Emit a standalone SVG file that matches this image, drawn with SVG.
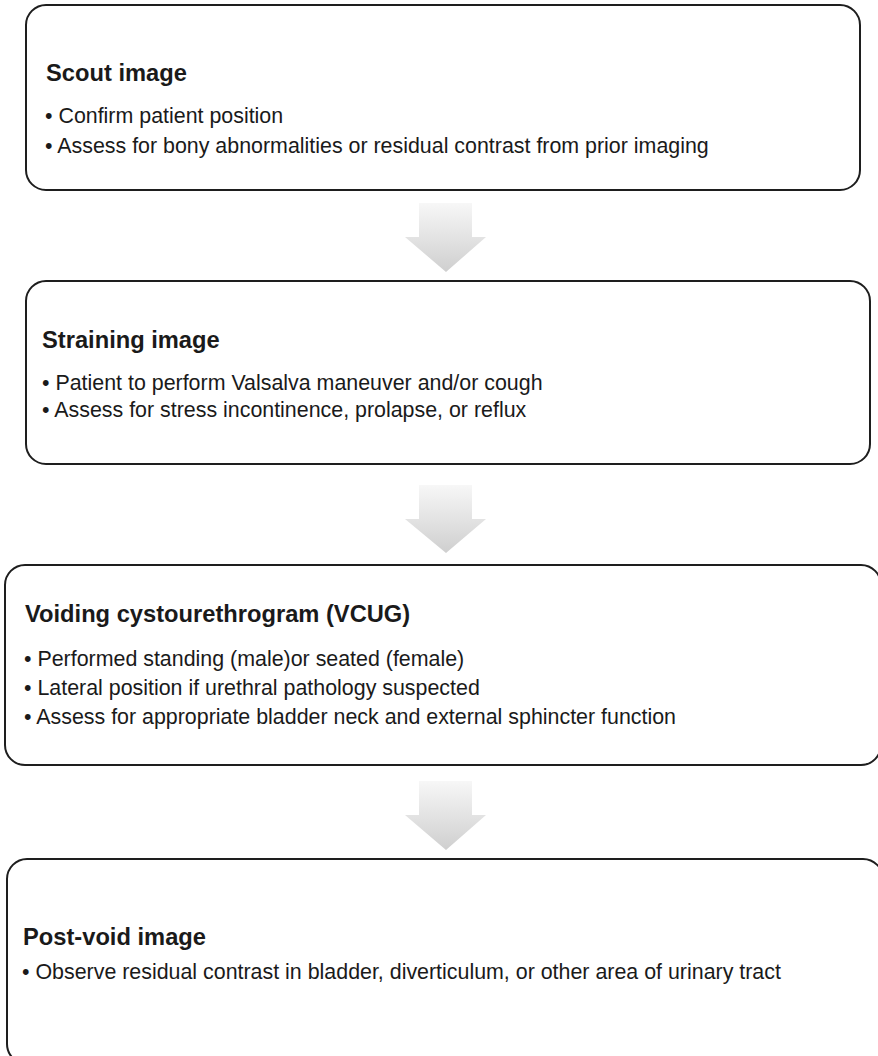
<svg xmlns="http://www.w3.org/2000/svg" width="878" height="1056" viewBox="0 0 878 1056">
<style>
.box{fill:#fff;stroke:#1e1e1e;stroke-width:2}
.t{font-family:"Liberation Sans",Arial,sans-serif;font-weight:bold;font-size:23.7px;fill:#1a1a1a}
.b{font-family:"Liberation Sans",Arial,sans-serif;font-size:21.4px;fill:#1a1a1a}
.arr{fill:url(#g)}
</style>
<defs>
<linearGradient id="g" x1="0" y1="0" x2="0" y2="1">
<stop offset="0" stop-color="#f7f7f7"/>
<stop offset="1" stop-color="#cfcfcf"/>
</linearGradient>
</defs>
<rect width="878" height="1056" fill="#fff"/>
<g id="connectors">
<path class="arr" d="M419,203 H472 V237 H486 L446,272 L405,237 H419 Z"/>
<path class="arr" d="M419,485 H472 V519 H486 L446,553 L405,519 H419 Z"/>
<path class="arr" d="M419,781 H472 V815 H486 L446,850 L405,815 H419 Z"/>
</g>
<g id="scout">
<rect class="box" x="26" y="5" width="834" height="185" rx="20"/>
<text class="t" x="46" y="81">Scout image</text>
<text class="b" x="45" y="123">• Confirm patient position</text>
<text class="b" x="45" y="153">• Assess for bony abnormalities or residual contrast from prior imaging</text>
</g>
<g id="straining">
<rect class="box" x="26" y="281" width="844" height="183" rx="20"/>
<text class="t" x="42" y="348">Straining image</text>
<text class="b" x="42" y="390">• Patient to perform Valsalva maneuver and/or cough</text>
<text class="b" x="42" y="417">• Assess for stress incontinence, prolapse, or reflux</text>
</g>
<g id="vcug">
<rect class="box" x="5" y="565" width="876" height="200" rx="20"/>
<text class="t" x="25" y="622">Voiding cystourethrogram (VCUG)</text>
<text class="b" x="24" y="666">• Performed standing (male)or seated (female)</text>
<text class="b" x="24" y="695">• Lateral position if urethral pathology suspected</text>
<text class="b" x="24" y="724">• Assess for appropriate bladder neck and external sphincter function</text>
</g>
<g id="postvoid">
<rect class="box" x="7" y="859" width="876" height="205" rx="20"/>
<text class="t" x="23" y="945">Post-void image</text>
<text class="b" x="22" y="979">• Observe residual contrast in bladder, diverticulum, or other area of urinary tract</text>
</g>
</svg>
